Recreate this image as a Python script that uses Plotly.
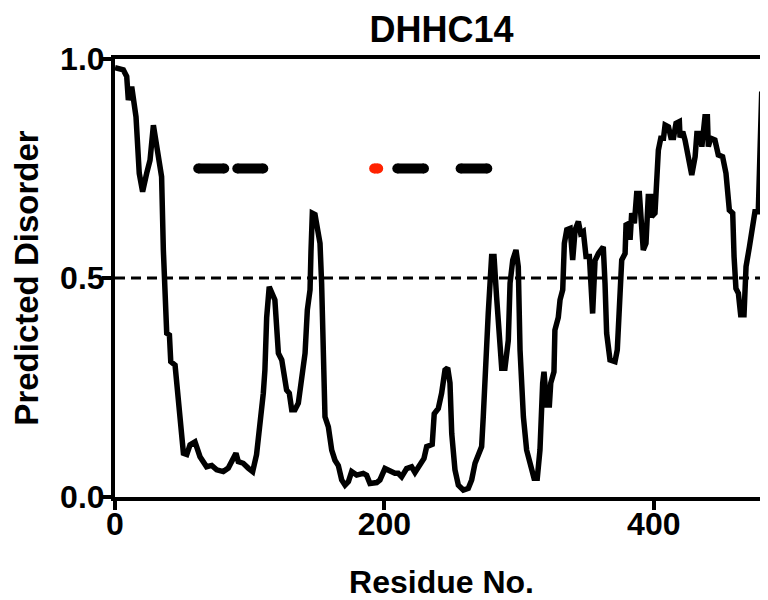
import plotly.graph_objects as go

# Disorder profile (residue number, predicted disorder)
residue = [0, 1.7, 6.2, 8.7, 9.9, 12.4, 13.6, 15.6, 18, 20.5, 23.5, 26, 28.5, 31, 33, 34.6,
           35.9, 37.1, 38.4, 40.4, 41.4, 44.6, 45.9, 48.3, 50.8, 53.3, 55.7, 59.4, 63.1, 68,
           71.8, 75.5, 80.4, 84.1, 86.6, 89.8, 91.5, 95.2, 98.9, 102.2, 105.1, 107.6, 110.1,
           111.3, 112.6, 114.5, 117, 118.7, 121.3, 123.8, 127.4, 129.4, 131.2, 133.6, 136.1,
           138.6, 141.1, 142.8, 144.8, 145.5, 146.5, 148.5, 149.7, 152.2, 153.4, 154.7, 155.9,
           158.4, 160.9, 163.3, 165.8, 168.3, 170.8, 173.3, 175.7, 179.4, 184.3, 186.8, 189.3,
           194.3, 196.7, 200.4, 204.1, 207.8, 210.3, 212.8, 216.5, 220.2, 222.7, 226.4, 229.4,
           231.4, 235.5, 237, 240, 242.5, 245, 247, 248.7, 250, 252.4, 254.9, 258.6, 262.3,
           264.8, 267.3, 269.7, 272.2, 273.4, 275.5, 277.1, 279.6, 281.4, 283.3, 285.8, 287.1,
           289.5, 292, 293.3, 295.3, 297.7, 299.4, 300.7, 303.2, 305.6, 309.4, 311.1, 313.5,
           315.5, 317.5, 318.5, 320.5, 322.5, 323.5, 325.9, 326.6, 329.1, 330.4, 332.4, 333.6,
           335.4, 337.9, 339.8, 341.6, 344, 345.7, 347.7, 349.7, 352.2, 354.6, 356.4, 358.9,
           362.5, 363.8, 365, 367.5, 371.2, 372.9, 374.9, 376.2, 378.7, 379.4, 381.9, 382.4,
           383.6, 385.6, 387.3, 389.3, 391, 392.2, 394.2, 395.9, 397.7, 398.4, 400.9, 402.2,
           403.4, 405.2, 407.2, 408.4, 410.9, 412.7, 414.7, 416.5, 419, 419.5, 421.5, 423.2,
           425.7, 428.2, 430.7, 432, 434.5, 435.7, 438, 439.8, 440.5, 442.3, 445.4, 447.9,
           451.1, 453.6, 456.1, 458.6, 459.6, 461, 462.8, 464.5, 467, 468.5, 471, 473.4,
           475.1, 477.6, 478.9, 480.1, 481.9, 483.8, 486]
disorder = [0.98, 0.979, 0.975, 0.96, 0.906, 0.937, 0.90, 0.868, 0.739, 0.697, 0.739, 0.769,
            0.849, 0.80, 0.747, 0.731, 0.564, 0.495, 0.374, 0.37, 0.309, 0.301, 0.26, 0.183,
            0.10, 0.097, 0.119, 0.126, 0.092, 0.069, 0.072, 0.062, 0.058, 0.066, 0.081, 0.10,
            0.081, 0.077, 0.066, 0.058, 0.097, 0.16, 0.237, 0.29, 0.41, 0.48, 0.465, 0.45,
            0.328, 0.313, 0.244, 0.237, 0.199, 0.199, 0.214, 0.267, 0.328, 0.427, 0.473, 0.56,
            0.648, 0.645, 0.617, 0.579, 0.488, 0.336, 0.183, 0.16, 0.107, 0.084, 0.072, 0.039,
            0.027, 0.035, 0.058, 0.050, 0.054, 0.05, 0.031, 0.033, 0.039, 0.065, 0.058, 0.054,
            0.054, 0.046, 0.065, 0.069, 0.056, 0.077, 0.088, 0.115, 0.12, 0.19, 0.202, 0.237,
            0.29, 0.295, 0.26, 0.145, 0.062, 0.027, 0.016, 0.02, 0.039, 0.077, 0.096, 0.115,
            0.183, 0.351, 0.419, 0.549, 0.549, 0.457, 0.351, 0.294, 0.294, 0.358, 0.488, 0.541,
            0.564, 0.526, 0.336, 0.183, 0.107, 0.069, 0.043, 0.043, 0.107, 0.26, 0.286, 0.21,
            0.21, 0.26, 0.286, 0.381, 0.41, 0.45, 0.473, 0.579, 0.61, 0.613, 0.541, 0.61,
            0.629, 0.602, 0.606, 0.549, 0.549, 0.419, 0.54, 0.556, 0.571, 0.488, 0.374, 0.313,
            0.309, 0.336, 0.45, 0.541, 0.556, 0.621, 0.625, 0.587, 0.648, 0.625, 0.693, 0.693,
            0.617, 0.564, 0.579, 0.686, 0.686, 0.64, 0.648, 0.731, 0.792, 0.819, 0.819, 0.849,
            0.845, 0.821, 0.821, 0.853, 0.857, 0.821, 0.834, 0.815, 0.777, 0.735, 0.777, 0.83,
            0.83, 0.80, 0.868, 0.868, 0.80, 0.819, 0.815, 0.781, 0.777, 0.739, 0.655, 0.648,
            0.549, 0.476, 0.465, 0.416, 0.416, 0.526, 0.571, 0.632, 0.651, 0.651, 0.792, 0.922,
            0.929, 0.932, 0.94]

# Annotated regions drawn at y = 0.75
region_start = [61.8, 90.8, 192.4, 209.6, 256.6]
region_end = [81.1, 110.1, 195.4, 229.4, 276.4]
region_color = ["#000000", "#000000", "#FF2200", "#000000", "#000000"]
region_level = 0.75

threshold = 0.5
x_ticks = [0, 200, 400]
y_ticks = [0.0, 0.5, 1.0]
y_tick_labels = ["0.0", "0.5", "1.0"]

FONT = "Liberation Sans, Arial, Helvetica, sans-serif"

fig = go.Figure()

fig.add_trace(go.Scatter(
    x=residue, y=disorder, mode="lines",
    line=dict(color="black", width=5.5),
    hoverinfo="skip", showlegend=False,
))

for s, e, c in zip(region_start, region_end, region_color):
    fig.add_trace(go.Scatter(
        x=[s, e], y=[region_level, region_level], mode="lines+markers",
        line=dict(color=c, width=10),
        marker=dict(color=c, size=10, line=dict(width=0)),
        hoverinfo="skip", showlegend=False,
    ))

fig.add_shape(type="line", xref="paper", yref="y", x0=0, x1=1, y0=threshold, y1=threshold,
              line=dict(color="black", width=3, dash="10px,6px"), layer="below")

# page body has an 8px margin, so the figure is 760x592 and fills the 768x600 window
fig.update_layout(
    width=760, height=592,
    margin=dict(l=107, r=0, t=51, b=103),
    paper_bgcolor="white", plot_bgcolor="white",
    font=dict(family=FONT, color="black", size=30, weight="bold"),
    title=dict(text="DHHC14", x=0.5, xref="paper", y=1 - 21 / 592, yref="container",
               xanchor="center", yanchor="middle", automargin=False,
               font=dict(family=FONT, size=36, color="black", weight="bold")),
    xaxis=dict(
        range=[0, 484.8], tickvals=x_ticks, ticktext=[str(v) for v in x_ticks],
        showgrid=False, zeroline=False, automargin=False,
        showline=True, linecolor="black", linewidth=4, mirror=True,
        ticks="outside", ticklen=9, tickwidth=4, tickcolor="black",
        ticklabelstandoff=-13,
        tickfont=dict(family=FONT, size=32, weight="bold"),
        title=dict(text="Residue No.", standoff=30,
                   font=dict(family=FONT, size=32, weight="bold")),
    ),
    yaxis=dict(
        range=[0, 1], tickvals=y_ticks, ticktext=y_tick_labels,
        showgrid=False, zeroline=False, automargin=False,
        showline=True, linecolor="black", linewidth=4,
        ticks="outside", ticklen=9, tickwidth=4, tickcolor="black",
        ticklabelstandoff=-9,
        tickfont=dict(family=FONT, size=32, weight="bold"),
        title=dict(text="Predicted Disorder", standoff=17,
                   font=dict(family=FONT, size=33, weight="bold")),
    ),
)

fig.write_html("out.html")
